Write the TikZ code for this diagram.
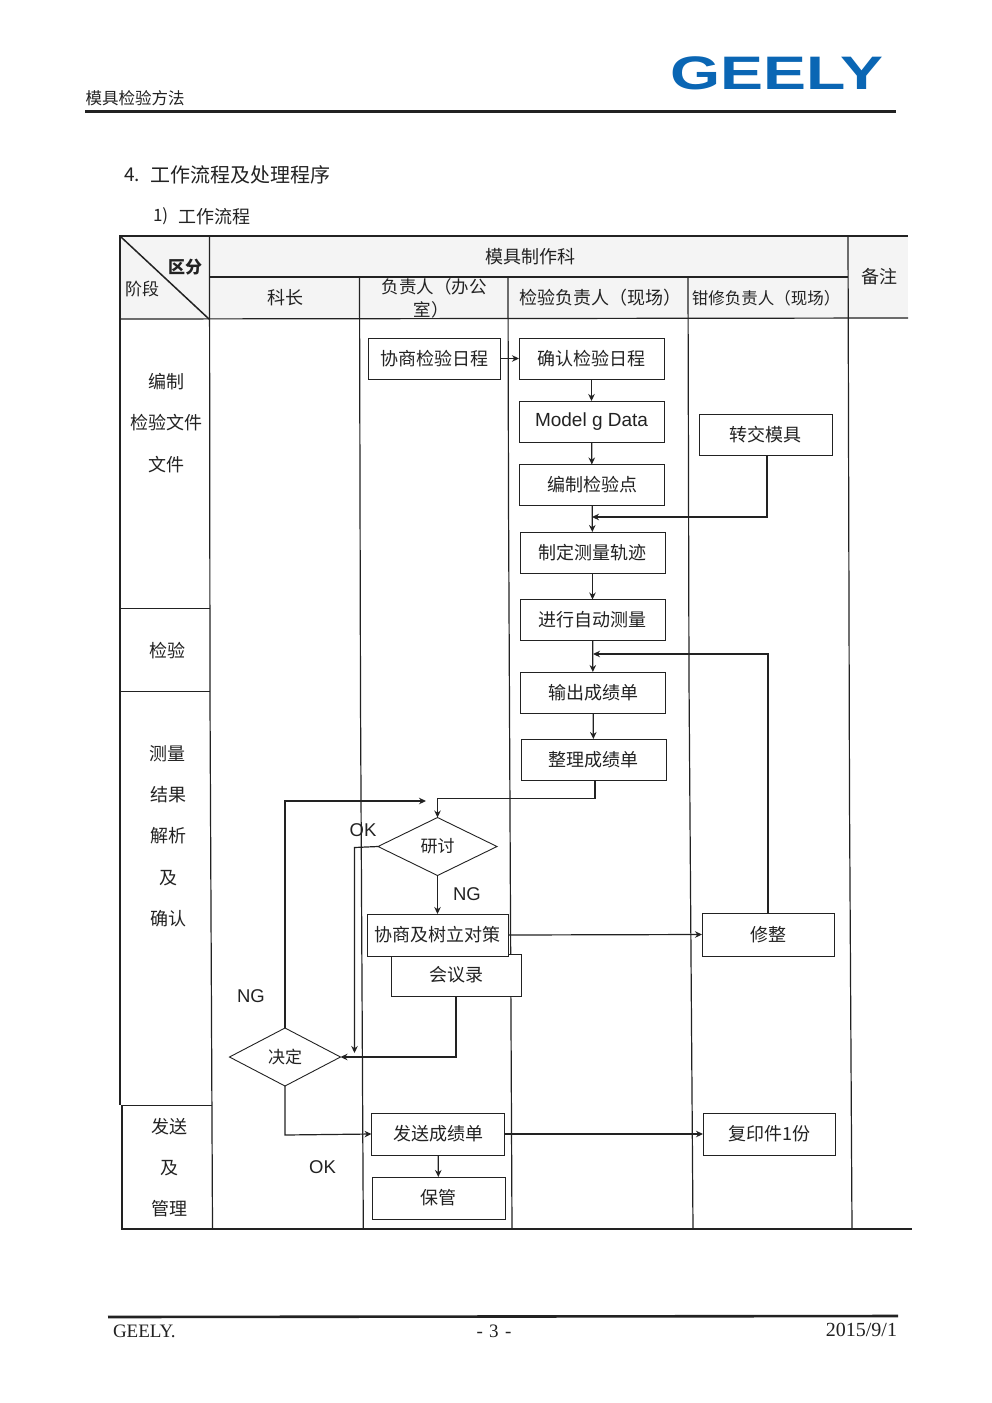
\documentclass[tikz,border=0pt]{standalone}
\usepackage{fontspec}
\setmainfont{Noto Sans CJK SC}
\newfontfamily\latinsans{Liberation Sans}
\newfontfamily\latinserif{Liberation Serif}
\usetikzlibrary{arrows.meta,shapes.geometric}
\definecolor{ink}{HTML}{222222}
\definecolor{headgray}{HTML}{F4F4F4}
\definecolor{logoblue}{HTML}{0A66B4}
\tikzset{
  every node/.style={inner sep=0pt,outer sep=0pt,text=ink},
  grid/.style={draw=ink,line width=1.2pt},
  flowbox/.style={draw=ink,fill=white,line width=0.9pt,align=center,font=\fontsize{18}{20}\selectfont},
  decision/.style={diamond,aspect=2,draw=ink,fill=white,line width=0.9pt,font=\fontsize{17}{20}\selectfont},
  cell/.style={font=\fontsize{18}{20}\selectfont},
  tag/.style={font=\latinsans\fontsize{18.5}{20}\selectfont},
  flow/.style={draw=ink,line width=1.2pt,-{Stealth[length=7pt,width=6.5pt]}}
}
\begin{document}
\begin{tikzpicture}[x=1pt,y=-1pt]
\useasboundingbox (0,0) rectangle (992,1403);
\fill[white] (0,0) rectangle (992,1403);
% page header
\node[font=\fontsize{16.5}{18}\selectfont] (doctitle) at (135,98) {模具检验方法};
\node[text=logoblue,font=\latinsans\bfseries\fontsize{47}{50}\selectfont] (logo) at (777,73) {\scalebox{1.37}[1]{GEELY}};
\draw[draw=ink,line width=2.4pt] (85,111.5) -- (896,111.5);
\node[anchor=west,font=\fontsize{19}{22}\selectfont] (sect) at (124,175) {4.};
\node[anchor=west,font=\fontsize{20}{22}\selectfont] (secttext) at (150,175) {工作流程及处理程序};
\node[anchor=west,font=\fontsize{17}{20}\selectfont] (subsect) at (153,216.5) {1)};
\node[anchor=west,font=\fontsize{18}{20}\selectfont] (subsecttext) at (178,216.5) {工作流程};
% table
\fill[headgray] (120,236) rectangle (908,318.5);
\draw[grid] (119,236) -- (908,236);
\draw[grid] (210,277) -- (848,277);
\draw[grid] (120,319) -- (908,318);
\draw[grid] (122,1229) -- (912,1229);
\draw[grid] (120,608.5) -- (210,608.5);
\draw[grid] (120,691.5) -- (210,691.5);
\draw[grid,line width=0.9pt] (122,1105) -- (212,1105);
\draw[grid] (120,236) -- (120,1105);
\draw[grid] (122,1105) -- (122,1229.6);
\draw[grid] (209.5,236) -- (210,700) -- (212.5,1229);
\draw[grid] (359.5,277) -- (360.5,700) -- (363.3,1229);
\draw[grid] (508,277) -- (508.5,500) -- (512,1229);
\draw[grid] (688,277) -- (689,680) -- (693,1229);
\draw[grid] (848,236) -- (849.5,800) -- (852,1229);
\draw[grid,line width=1.5pt] (121,237) -- (209,319);
% table headings
\node[cell,font=\bfseries\fontsize{17}{20}\selectfont] (h1) at (185,267) {区分};
\node[cell,font=\fontsize{17}{20}\selectfont] (h2) at (142,289) {阶段};
\node[cell] (h3) at (530,257) {模具制作科};
\node[cell] (h4) at (879,277) {备注};
\node[cell] (h5) at (285,298) {科长};
\node[cell,font=\fontsize{17.5}{20}\selectfont] (h6) at (434,287) {负责人（办公};
\node[cell,font=\fontsize{17.5}{20}\selectfont] (h7) at (431,310) {室）};
\node[cell,font=\fontsize{18}{20}\selectfont] (h8) at (600,298) {检验负责人（现场）};
\node[cell,font=\fontsize{16.5}{20}\selectfont] (h9) at (766,298) {钳修负责人（现场）};
% stage column
\node[cell] (s1) at (166,382) {编制};
\node[cell] (s2) at (166,423) {检验文件};
\node[cell] (s3) at (166,464.5) {文件};
\node[cell] (s4) at (167,651) {检验};
\node[cell] (s5) at (167,754) {测量};
\node[cell] (s6) at (168,795) {结果};
\node[cell] (s7) at (168,836) {解析};
\node[cell] (s8) at (168,878) {及};
\node[cell] (s9) at (168,919) {确认};
\node[cell] (s10) at (169,1127) {发送};
\node[cell] (s11) at (169,1168) {及};
\node[cell] (s12) at (169,1209) {管理};
% boxes
\node[flowbox,minimum width=132pt,minimum height=41pt] (xieshang) at (434,358.5) {协商检验日程};
\node[flowbox,minimum width=145pt,minimum height=41pt] (queren) at (591.5,358.5) {确认检验日程};
\node[flowbox,minimum width=145pt,minimum height=41pt,font=\latinsans\fontsize{19}{20}\selectfont] (model) at (591.5,421.5) {Model g Data};
\node[flowbox,minimum width=145pt,minimum height=41pt] (bianzhi) at (592,485) {编制检验点};
\node[flowbox,minimum width=145pt,minimum height=41pt] (zhiding) at (592.5,552.5) {制定测量轨迹};
\node[flowbox,minimum width=145pt,minimum height=41pt] (jinxing) at (592.5,620) {进行自动测量};
\node[flowbox,minimum width=145pt,minimum height=41pt] (shuchu) at (593,692.5) {输出成绩单};
\node[flowbox,minimum width=145pt,minimum height=41pt] (zhengli) at (593.5,759.5) {整理成绩单};
\node[flowbox,minimum width=133pt,minimum height=41pt] (zhuanjiao) at (765.5,434.5) {转交模具};
\node[flowbox,minimum width=132pt,minimum height=43pt] (xiuzheng) at (768,934.5) {修整};
\node[flowbox,minimum width=132pt,minimum height=42pt] (fuyin) at (769,1134) {复印件1份};
\node[flowbox,minimum width=130pt,minimum height=42pt] (huiyi) at (456,975) {会议录};
\node[flowbox,minimum width=141pt,minimum height=42pt] (duice) at (437.5,935) {协商及树立对策};
\node[flowbox,minimum width=133pt,minimum height=42pt] (fasong) at (438,1134) {发送成绩单};
\node[flowbox,minimum width=133pt,minimum height=42pt] (baoguan) at (438.5,1198) {保管};
\node[decision,minimum width=119pt,minimum height=58pt] (yantao) at (437.5,846.5) {研讨};
\node[decision,minimum width=111pt,minimum height=58pt] (jueding) at (285,1057) {决定};
% free ends
\coordinate (redo) at (426,801);
\coordinate (okend) at (354.5,1053);
% connectors
\draw[flow] (xieshang.east) -- (queren.west);
\draw[flow] (queren) -- (model);
\draw[flow] (model) -- (bianzhi);
\draw[flow] (bianzhi) -- (zhiding);
\draw[flow] (zhiding) -- (jinxing);
\draw[flow] (jinxing) -- (shuchu);
\draw[flow] (shuchu) -- (zhengli);
\draw[flow] (zhuanjiao.south -| 767,0) -- (767,517) -- (592,517);
\draw[flow] (xiuzheng.north) -- (768,654) -- (593,654);
\draw[flow] (595,780) -- (595,798.5) -- (437.5,798.5) -- (yantao.north);
\draw[flow] (jueding.north) -- (285,801) -- (redo);
\draw[flow] (yantao.west) -- (354.5,847.5) -- (okend);
\draw[flow] (yantao.south) -- (437.5,914);
\draw[flow] (duice.east) -- (xiuzheng.west);
\draw[flow] (456,996) -- (456,1057) -- (jueding.east);
\draw[flow] (jueding.south) -- (285,1135) -- (fasong.west);
\draw[flow] (fasong.east) -- (fuyin.west);
\draw[flow] (fasong) -- (baoguan);
% decision labels
\node[tag] (l1) at (363,830) {OK};
\node[tag] (l2) at (467,894) {NG};
\node[tag] (l3) at (251,996) {NG};
\node[tag] (l4) at (322.5,1167) {OK};
% footer
\draw[draw=ink,line width=2.6pt] (108,1317) -- (898,1316);
\node[anchor=west,font=\latinserif\fontsize{19}{20}\selectfont] (f1) at (113,1331) {GEELY.};
\node[font=\latinserif\fontsize{19}{20}\selectfont] (f2) at (494,1331) {-\,\,3\,\,-};
\node[anchor=east,font=\latinserif\fontsize{20}{20}\selectfont] (f3) at (897,1330) {2015/9/1};
\end{tikzpicture}
\end{document}
